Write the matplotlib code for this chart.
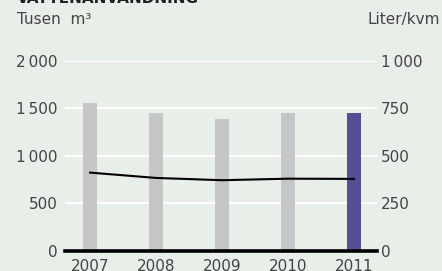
import matplotlib.pyplot as plt
import numpy as np

# data
years = ['2007', '2008', '2009', '2010', '2011']
water_k_m3 = [1558, 1450, 1390, 1447, 1447]     # Tusen m3 (bars, left axis)
liter_per_kvm = [411, 383, 371, 379, 378]       # Liter/kvm (line, right axis)
left_ticks = [0, 500, 1000, 1500, 2000]
left_labels = ['0', '500', '1\u2009000', '1\u2009500', '2\u2009000']
right_ticks = [0, 250, 500, 750, 1000]
right_labels = ['0', '250', '500', '750', '1\u2009000']

bg = '#e8eee8'
txt = '#444444'
plt.rcParams['font.family'] = ['DejaVu Sans']

fig = plt.figure(figsize=(4.42, 2.71), dpi=100)
fig.patch.set_facecolor(bg)

W, H = 442, 271
ax = fig.add_axes([65 / W, 1 - 250.7 / H, (377 - 65) / W, 190 / H])
ax.set_facecolor(bg)
x = np.arange(len(years))

# white grid lines behind the bars
for t in left_ticks[1:]:
    ax.axhline(t, color='white', lw=1.6, zorder=0)

colors = ['#c6c6c8'] * (len(years) - 1) + ['#574f96']
ax.bar(x, water_k_m3, width=0.21, color=colors, zorder=2)

ax.set_xlim(-0.38, 4.35)
ax.set_ylim(0, 2000)
ax.set_yticks(left_ticks)
ax.set_yticklabels(left_labels)
ax.set_xticks(x)
ax.set_xticklabels(years)
ax.tick_params(axis='y', length=0, pad=5.5, labelsize=11, labelcolor=txt)
ax.tick_params(axis='x', length=0, pad=6, labelsize=11, labelcolor=txt)
for s in ax.spines.values():
    s.set_visible(False)

ax2 = ax.twinx()
ax2.plot(x, liter_per_kvm, color='black', lw=1.5, zorder=3)
ax2.axhline(0, color='black', lw=2.6, zorder=4, clip_on=False)
ax2.set_ylim(0, 1000)
ax2.set_yticks(right_ticks)
ax2.set_yticklabels(right_labels)
ax2.tick_params(axis='y', length=0, pad=3, labelsize=11, labelcolor=txt)
for s in ax2.spines.values():
    s.set_visible(False)

fig.text(17 / W, 1 - 3 / H, 'VATTENANVÄNDNING', fontsize=11, fontweight='bold',
         color='#222222', va='baseline', ha='left')
fig.text(17 / W, 1 - 24 / H, 'Tusen  m³', fontsize=11, color=txt,
         va='baseline', ha='left')
fig.text(440 / W, 1 - 24 / H, 'Liter/kvm', fontsize=11, color=txt,
         va='baseline', ha='right')

fig.savefig('out.png', dpi=100, facecolor=bg)
